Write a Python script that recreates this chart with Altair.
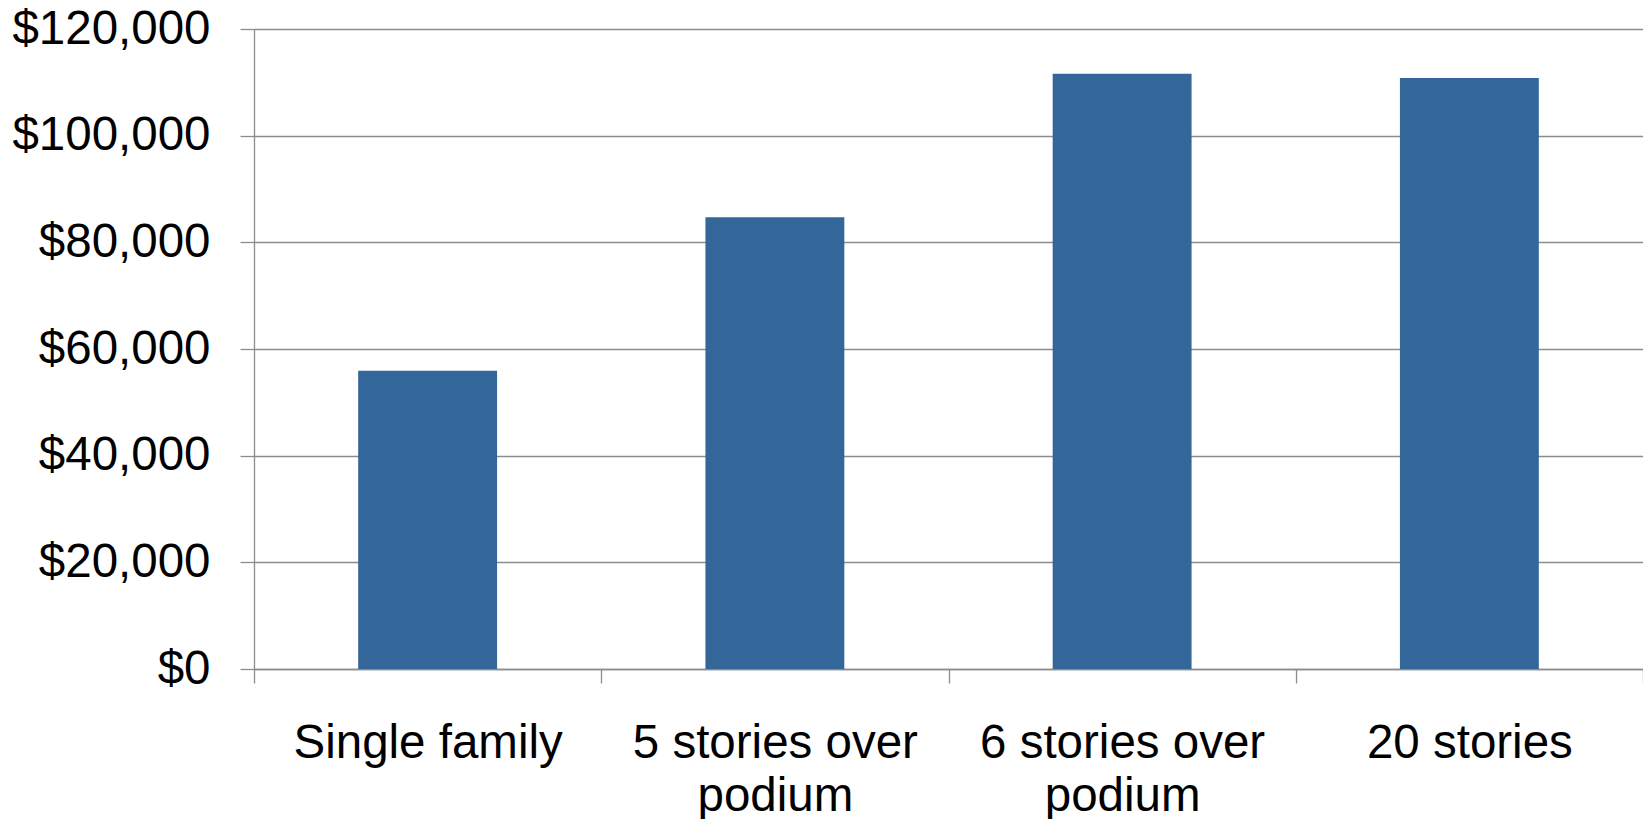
import altair as alt
import pandas as pd

categories = ["Single family", "5 stories over\npodium", "6 stories over\npodium", "20 stories"]
values = [55900, 84700, 111600, 110800]
y_ticks = [0, 20000, 40000, 60000, 80000, 100000, 120000]

df = pd.DataFrame({"category": categories, "value": values})

FONT = "Liberation Sans"
GRID = "#8c8c8c"

chart = alt.Chart(df).mark_bar(
    color="#336699", width=alt.RelativeBandSize(0.4)
).encode(
    x=alt.X(
        "category:N",
        sort=categories,
        scale=alt.Scale(paddingInner=0, paddingOuter=0),
        axis=alt.Axis(
            title=None,
            labelAngle=0,
            labelExpr="split(datum.label, '\\n')",
            labelFont=FONT,
            labelFontSize=47.5,
            labelColor="black",
            labelLineHeight=53,
            labelPadding=36,
            tickBand="extent",
            tickSize=14,
            tickColor=GRID,
            tickWidth=1.3,
            domainColor=GRID,
            domainWidth=1.3,
            labelLimit=400,
        ),
    ),
    y=alt.Y(
        "value:Q",
        scale=alt.Scale(domain=[0, 120000], nice=False),
        axis=alt.Axis(
            title=None,
            values=y_ticks,
            format="$,.0f",
            labelFont=FONT,
            labelFontSize=47.5,
            labelColor="black",
            labelPadding=30,
            labelLimit=400,
            tickSize=14,
            tickColor=GRID,
            tickWidth=1.3,
            domainColor=GRID,
            domainWidth=1.3,
            gridColor=GRID,
            gridWidth=1.3,
            grid=True,
        ),
    ),
).properties(
    width=1389,
    height=640,
    autosize=alt.AutoSizeParams(type="none"),
    padding={"left": 254, "top": 29, "right": 0, "bottom": 150},
).configure_view(stroke=None).configure(background="white")

chart.save("out.html", embed_options={"renderer": "svg", "actions": False})
